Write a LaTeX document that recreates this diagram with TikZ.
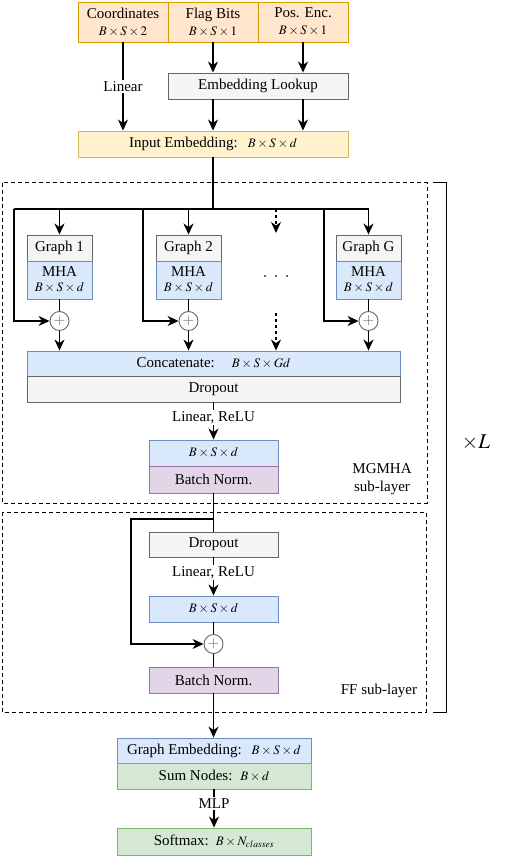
\documentclass[tikz,border=0pt]{standalone}
\usepackage{mathptmx}
\usepackage{fontspec}
\setmainfont{Liberation Serif}
\usetikzlibrary{arrows.meta}

\definecolor{orfill}{HTML}{FFE6CC}\definecolor{ordraw}{HTML}{D79B00}
\definecolor{yefill}{HTML}{FFF2CC}\definecolor{yedraw}{HTML}{D6B656}
\definecolor{grfill}{HTML}{F5F5F5}\definecolor{grdraw}{HTML}{666666}
\definecolor{blfill}{HTML}{DAE8FC}\definecolor{bldraw}{HTML}{6C8EBF}
\definecolor{pufill}{HTML}{E1D5E7}\definecolor{pudraw}{HTML}{9673A6}
\definecolor{gnfill}{HTML}{D5E8D4}\definecolor{gndraw}{HTML}{82B366}

\newcommand{\dims}[1]{{\fontsize{13}{15}\selectfont$#1$}}

\tikzset{
  box/.style={draw, line width=0.9pt, inner sep=0pt, align=center, minimum height=26pt},
  orangebox/.style={box, fill=orfill, draw=ordraw, minimum width=90pt, minimum height=40pt},
  yellowbox/.style={box, fill=yefill, draw=yedraw},
  graybox/.style={box, fill=grfill, draw=grdraw},
  bluebox/.style={box, fill=blfill, draw=bldraw},
  purplebox/.style={box, fill=pufill, draw=pudraw},
  greenbox/.style={box, fill=gnfill, draw=gndraw},
  addnode/.style={circle, draw=grdraw, fill=white, line width=0.9pt, minimum size=19pt, inner sep=0pt, text=grdraw},
  lbl/.style={fill=white, inner sep=1.5pt},
  arr/.style={-{Stealth[length=11pt,width=10pt,inset=3.5pt]}},
  layerbox/.style={dashed, line width=1pt, dash pattern=on 4pt off 3pt}
}

\begin{document}
\begin{tikzpicture}[x=1pt,y=-1pt, line width=1.4pt, font=\fontsize{15}{17}\selectfont]
\useasboundingbox (0,0) rectangle (512,858);
% Inputs
\node[orangebox] (coord) at (123,22) {Coordinates\\\dims{B\times S\times 2}};
\node[orangebox] (flag) at (213,22) {Flag Bits\\\dims{B\times S\times 1}};
\node[orangebox] (posenc) at (303,22) {Pos. Enc.\\\dims{B\times S\times 1}};
\node[graybox, minimum width=180pt] (lookup) at (258,86) {Embedding Lookup};
\node[yellowbox, minimum width=270pt] (inemb) at (213,144) {Input Embedding:\hspace{10pt}\dims{B\times S\times d}};
\draw[arr] (coord) -- node[lbl] {Linear} (coord |- inemb.north);
\draw[arr] (flag) -- (flag |- lookup.north);
\draw[arr] (posenc) -- (posenc |- lookup.north);
\draw[arr] (lookup.south -| flag) -- (flag |- inemb.north);
\draw[arr] (lookup.south -| posenc) -- (posenc |- inemb.north);
% MGMHA sub-layer
\draw[layerbox] (2,183) rectangle (427,503);
\coordinate (j0) at (213,209);
\coordinate (by1) at (14,209);
\coordinate (by2) at (143,209);
\coordinate (byG) at (324,209);
\node[graybox, minimum width=65pt] (g1) at (59.5,248) {Graph 1};
\node[graybox, minimum width=65pt] (g2) at (188.5,248) {Graph 2};
\node[graybox, minimum width=65pt] (gG) at (368.5,248) {Graph G};
\node[bluebox, minimum width=65pt, minimum height=38pt] (mha1) at (59.5,280) {MHA\\[-2pt]\dims{B\times S\times d}};
\node[bluebox, minimum width=65pt, minimum height=38pt] (mha2) at (188.5,280) {MHA\\[-2pt]\dims{B\times S\times d}};
\node[bluebox, minimum width=65pt, minimum height=38pt] (mhaG) at (368.5,280) {MHA\\[-2pt]\dims{B\times S\times d}};
\node[addnode] (add1) at (59.5,321) {$+$};
\node[addnode] (add2) at (188.5,321) {$+$};
\node[addnode] (addG) at (368.5,321) {$+$};
\node (dots) at (276,279) {\textperiodcentered\hspace{6pt}\textperiodcentered\hspace{6pt}\textperiodcentered};
\coordinate (dotsin) at (276,233);
\coordinate (dotsout) at (276,313);
\node[bluebox, minimum width=373pt, minimum height=25pt] (concat) at (213.5,363.5) {Concatenate:\hspace{17pt}\dims{B\times S\times Gd}};
\node[graybox, minimum width=373pt] (dropA) at (213.5,389) {Dropout};
\draw (inemb) -- (j0);
\draw (by1) -- (j0 -| gG);
\draw[arr] (j0 -| g1) -- (g1);
\draw[arr] (j0 -| g2) -- (g2);
\draw[arr] (j0 -| gG) -- (gG);
\draw[arr] (by1) |- (add1);
\draw[arr] (by2) |- (add2);
\draw[arr] (byG) |- (addG);
\draw (mha1) -- (add1);
\draw (mha2) -- (add2);
\draw (mhaG) -- (addG);
\draw[arr] (add1) -- (add1 |- concat.north);
\draw[arr] (add2) -- (add2 |- concat.north);
\draw[arr] (addG) -- (addG |- concat.north);
\draw[arr, dashed] (j0 -| dots) -- (dotsin);
\draw[arr, dashed] (dotsout) -- (dots |- concat.north);
\node[bluebox, minimum width=129pt] (bsdA) at (213.5,453) {\dims{B\times S\times d}};
\node[purplebox, minimum width=129pt, minimum height=27pt] (bnA) at (213.5,479.5) {Batch Norm.};
\draw[arr] (dropA) -- node[lbl, pos=0.4] {Linear, ReLU} (bsdA);
\node[align=center, font=\fontsize{15}{18}\selectfont] (mglbl) at (382,479) {MGMHA\\sub-layer};
% FF sub-layer
\draw[layerbox] (2,512) rectangle (426,712);
\coordinate (j1) at (213.5,519);
\coordinate (by3) at (131,519);
\node[graybox, minimum width=129pt, minimum height=25pt] (ffdrop) at (213.5,544.5) {Dropout};
\node[bluebox, minimum width=129pt] (bsdB) at (213.5,609) {\dims{B\times S\times d}};
\node[addnode] (addB) at (213.5,644) {$+$};
\node[purplebox, minimum width=129pt] (bnB) at (213.5,680) {Batch Norm.};
\node (fflbl) at (379,691) {FF sub-layer};
\draw (bnA) -- (ffdrop);
\draw[arr] (j1) -- (by3) |- (addB);
\draw[arr] (ffdrop) -- node[lbl, pos=0.4] {Linear, ReLU} (bsdB);
\draw (bsdB) -- (addB);
\draw (addB) -- (bnB);
% Repetition bracket
\draw[line width=1pt] (433,183) -- (446,183) -- (446,712) -- (433,712);
\node[font=\fontsize{21}{23}\selectfont] (reps) at (476,443) {$\times L$};
% Output head
\node[bluebox, minimum width=194pt, minimum height=25pt] (gemb) at (214,750.5) {Graph Embedding:\hspace{10pt}\dims{B\times S\times d}};
\node[greenbox, minimum width=194pt] (sumn) at (214,776) {Sum Nodes:\hspace{8pt}\dims{B\times d}};
\node[greenbox, minimum width=194pt, minimum height=27pt] (soft) at (214,841.5) {Softmax:\hspace{7pt}\dims{B\times N_{classes}}};
\draw[arr] (bnB) -- (bnB |- gemb.north);
\draw[arr] (sumn) -- node[lbl, pos=0.37] {MLP} (sumn |- soft.north);
\end{tikzpicture}
\end{document}
